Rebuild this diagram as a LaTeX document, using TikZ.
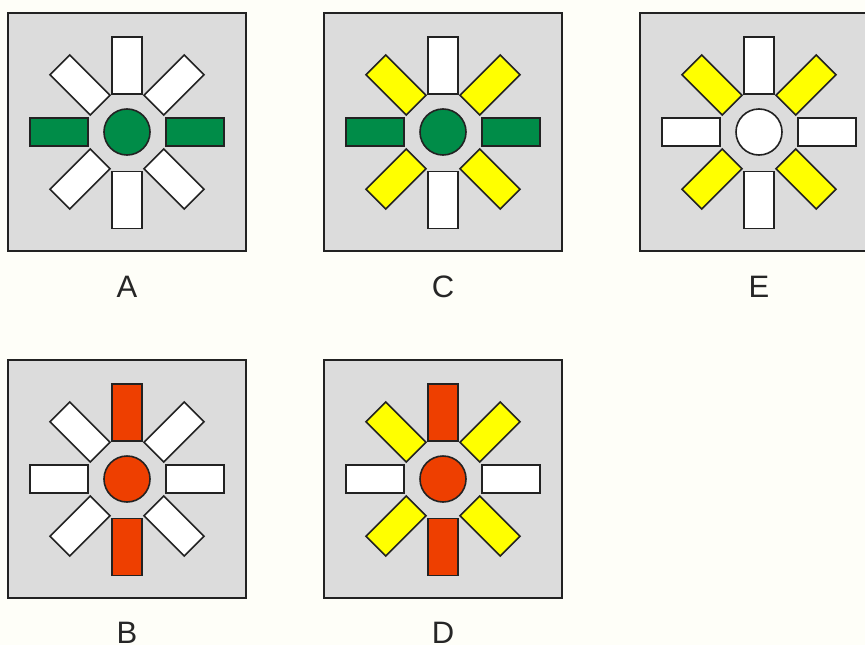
\documentclass[tikz,border=0pt]{standalone}
\usepackage{fontspec}
\setmainfont{Liberation Sans}
\definecolor{bgc}{HTML}{FEFEF8}
\definecolor{panelc}{HTML}{DCDCDC}
\definecolor{linec}{HTML}{222222}
\definecolor{grn}{HTML}{008C48}
\definecolor{red1}{HTML}{EE3F00}
\definecolor{yel}{HTML}{FFFF00}
\definecolor{wht}{HTML}{FFFFFF}
\tikzset{
  panelbox/.style={draw=linec, fill=panelc, line width=2pt},
  bar/.style={draw=linec, line width=1.6pt, inner sep=0pt, rectangle},
  vbar/.style={bar, minimum width=30pt, minimum height=57pt},
  hbar/.style={bar, minimum width=58pt, minimum height=28.5pt},
  dbar/.style={bar, minimum width=57pt, minimum height=28pt},
  hub/.style={draw=linec, line width=1.6pt, circle, minimum size=46pt, inner sep=0pt},
  lbl/.style={font=\fontsize{31}{36}\selectfont, text=black!85}
}
% #1 name, #2 cx, #3 cy, #4 hub, #5 N, #6 NE, #7 E, #8 SE, #9 S ; diagonals symmetric
\newcommand{\mypanel}[9]{%
  \draw[panelbox] (#2-119,#3-119) rectangle (#2+119,#3+119);
  \node[hub, fill=#4] (#1-c) at (#2,#3) {};
  \node[vbar, fill=#5] (#1-n) at (#2,#3-66.5) {};
  \node[vbar, fill=#9] (#1-s) at (#2,#3+68) {};
  \node[hbar, fill=#7] (#1-e) at (#2+68,#3) {};
  \node[hbar, fill=#7] (#1-w) at (#2-68,#3) {};
  \node[dbar, fill=#6, rotate=45] (#1-ne) at (#2+47,#3-47) {};
  \node[dbar, fill=#6, rotate=-45] (#1-nw) at (#2-47,#3-47) {};
  \node[dbar, fill=#8, rotate=-45] (#1-se) at (#2+47,#3+47) {};
  \node[dbar, fill=#8, rotate=45] (#1-sw) at (#2-47,#3+47) {};
}
\begin{document}
\begin{tikzpicture}[x=1pt,y=-1pt]
\useasboundingbox (0,0) rectangle (865,645);
\clip (0,0) rectangle (865,645);
\fill[bgc] (0,0) rectangle (865,645);
\mypanel{A}{127}{132}{grn}{wht}{wht}{grn}{wht}{wht}
\mypanel{C}{443}{132}{grn}{wht}{yel}{grn}{yel}{wht}
\mypanel{E}{759}{132}{wht}{wht}{yel}{wht}{yel}{wht}
\mypanel{B}{127}{479}{red1}{red1}{wht}{wht}{wht}{red1}
\mypanel{D}{443}{479}{red1}{red1}{yel}{wht}{yel}{red1}
\node[lbl] (lA) at (127,287) {A};
\node[lbl] (lC) at (443,287) {C};
\node[lbl] (lE) at (759,287) {E};
\node[lbl] (lB) at (127,633) {B};
\node[lbl] (lD) at (443,633) {D};
\end{tikzpicture}
\end{document}
